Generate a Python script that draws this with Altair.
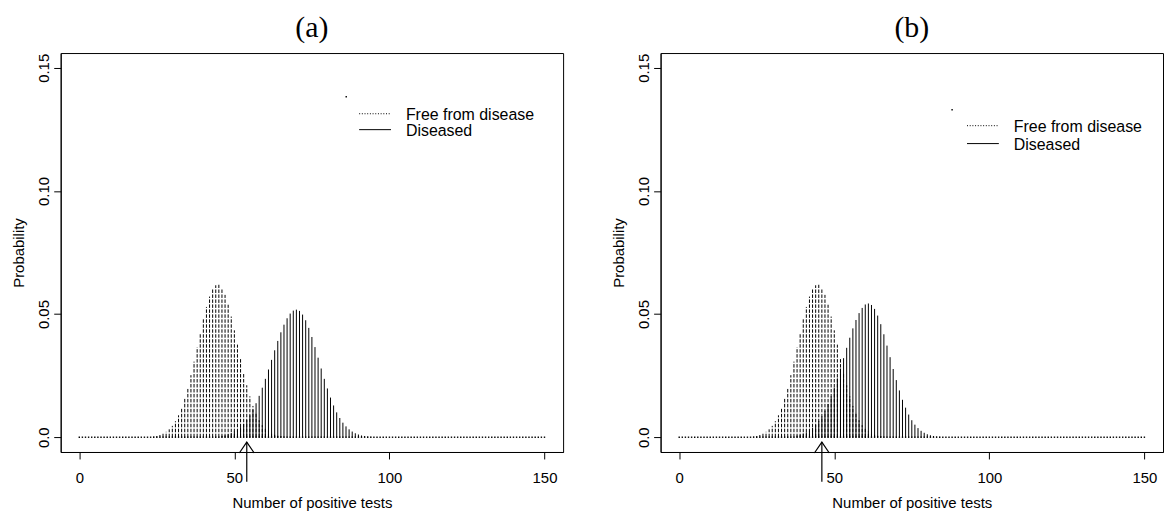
import altair as alt
import pandas as pd

# ---------------- data ----------------
support = list(range(0, 151))            # possible counts 0..150
x_ticks = [0, 50, 100, 150]
y_ticks = [0, 0.05, 0.10, 0.15]
panel_titles = ["(a)", "(b)"]
legend_labels = ["Free from disease", "Diseased"]

# Free from disease (same in both panels), counts 24..66
free_start = 24
free_probs = [0.0003, 0.0005, 0.0009, 0.0014, 0.0022, 0.0032, 0.0046, 0.0065, 0.0089,
              0.0120, 0.0158, 0.0202, 0.0252, 0.0307, 0.0365, 0.0423, 0.0479, 0.0529,
              0.0571, 0.0601, 0.0617, 0.0619, 0.0605, 0.0578, 0.0538, 0.0490, 0.0434,
              0.0376, 0.0318, 0.0262, 0.0211, 0.0166, 0.0127, 0.0095, 0.0069, 0.0049,
              0.0034, 0.0023, 0.0015, 0.0010, 0.0006, 0.0004, 0.0002]

# Diseased, panel (a), counts 46..94
dis_a_start = 46
dis_a_probs = [0.0006, 0.0008, 0.0012, 0.0017, 0.0023, 0.0031, 0.0041, 0.0054, 0.0070,
               0.0089, 0.0112, 0.0138, 0.0168, 0.0201, 0.0237, 0.0275, 0.0314, 0.0353,
               0.0391, 0.0426, 0.0457, 0.0483, 0.0502, 0.0514, 0.0518, 0.0513, 0.0498,
               0.0475, 0.0444, 0.0407, 0.0366, 0.0323, 0.0279, 0.0237, 0.0198, 0.0161,
               0.0129, 0.0101, 0.0078, 0.0059, 0.0044, 0.0032, 0.0023, 0.0016, 0.0011,
               0.0007, 0.0005, 0.0003, 0.0002]

# Diseased, panel (b), counts 38..84
dis_b_start = 38
dis_b_probs = [0.0007, 0.0010, 0.0015, 0.0020, 0.0028, 0.0038, 0.0050, 0.0066, 0.0085,
               0.0108, 0.0135, 0.0166, 0.0201, 0.0239, 0.0279, 0.0321, 0.0363, 0.0404,
               0.0442, 0.0476, 0.0504, 0.0525, 0.0539, 0.0543, 0.0537, 0.0521, 0.0494,
               0.0459, 0.0418, 0.0372, 0.0325, 0.0277, 0.0232, 0.0190, 0.0152, 0.0120,
               0.0092, 0.0069, 0.0051, 0.0037, 0.0026, 0.0018, 0.0012, 0.0008, 0.0005,
               0.0003, 0.0002]

cutoff_a = 54
cutoff_b = 46

# ---------------- layout ----------------
W, H = 505, 401
SANS = "Liberation Sans"
SERIF = "Liberation Serif"

xscale = alt.Scale(domain=[-6, 156], nice=False, zero=False)
yscale = alt.Scale(domain=[-0.006, 0.156], nice=False, zero=False)

xaxis = alt.Axis(values=x_ticks, format="d", title="Number of positive tests",
                 titleX=W / 2, titleY=51, titleAlign="center", titleBaseline="middle",
                 labelPadding=12, labelFlush=False, grid=False)
yaxis = alt.Axis(values=y_ticks, title="Probability", grid=False,
                 labelExpr="datum.value == 0 ? '0.0' : format(datum.value, '.2f')",
                 labelAngle=270, labelAlign="center", labelBaseline="alphabetic",
                 labelPadding=5, titleAngle=270, titleX=-42, titleY=H / 2,
                 titleAlign="center", titleBaseline="middle")


def X(field="x"):
    return alt.X(field, type="quantitative", scale=xscale, axis=xaxis)


def Y(field):
    return alt.Y(field, type="quantitative", scale=yscale, axis=yaxis)


def panel(title, dis_start, dis_probs, cutoff, leg):
    free_df = pd.DataFrame({"x": [free_start + i for i in range(len(free_probs))],
                            "p": free_probs})
    free_df["zero"] = 0.0
    dis_df = pd.DataFrame({"x": [dis_start + i for i in range(len(dis_probs))],
                           "p": dis_probs})
    dis_df["zero"] = 0.0
    base_df = pd.DataFrame({"x": support})
    base_df["zero"] = 0.0
    cut_df = pd.DataFrame({"x": [cutoff]})
    one = pd.DataFrame({"label": [title]})

    free = alt.Chart(free_df).mark_rule(color="black", strokeWidth=1,
                                        strokeDash=[3.5, 1.5]).encode(
        x=X(), y=Y("zero"), y2="p")
    dis = alt.Chart(dis_df).mark_rule(color="black", strokeWidth=1).encode(
        x=X(), y=Y("zero"), y2="p")
    dots = alt.Chart(base_df).mark_square(color="black", size=2, opacity=1).encode(
        x=X(), y=Y("zero"))

    arrow = alt.Chart(cut_df).mark_rule(color="black", strokeWidth=1.2).encode(
        x=X(), y=alt.value(391), y2=alt.value(431))
    head = alt.Chart(cut_df).mark_point(shape="M-0.68,1L0,0L0.68,1", filled=False,
                                        color="black", strokeWidth=1.2, size=484,
                                        opacity=1).encode(
        x=X(), y=alt.value(391))

    ttl = alt.Chart(one).mark_text(font=SERIF, fontSize=30, color="black",
                                   align="center", baseline="middle").encode(
        x=alt.value(W / 2), y=alt.value(-25), text="label:N")

    lx0, lx1, ltx, ly1, ly2, dotx, doty = leg
    ldf1 = pd.DataFrame({"label": [legend_labels[0]]})
    ldf2 = pd.DataFrame({"label": [legend_labels[1]]})
    ldot = alt.Chart(one).mark_square(color="black", size=2, opacity=1).encode(
        x=alt.value(dotx), y=alt.value(doty))
    lline1 = alt.Chart(ldf1).mark_rule(color="black", strokeWidth=1,
                                       strokeDash=[1, 1.7]).encode(
        x=alt.value(lx0), x2=alt.value(lx1), y=alt.value(ly1))
    lline2 = alt.Chart(ldf2).mark_rule(color="black", strokeWidth=1).encode(
        x=alt.value(lx0), x2=alt.value(lx1), y=alt.value(ly2))
    ltext1 = alt.Chart(ldf1).mark_text(font=SANS, fontSize=16, color="black",
                                       align="left", baseline="middle").encode(
        x=alt.value(ltx), y=alt.value(ly1 + 1), text="label:N")
    ltext2 = alt.Chart(ldf2).mark_text(font=SANS, fontSize=16, color="black",
                                       align="left", baseline="middle").encode(
        x=alt.value(ltx), y=alt.value(ly2 + 1), text="label:N")

    return alt.layer(free, dis, dots, arrow, head, ttl, ldot, lline1, lline2,
                     ltext1, ltext2).properties(width=W, height=H)


pa = panel(panel_titles[0], dis_a_start, dis_a_probs, cutoff_a,
           (300, 332, 347, 61, 77, 287, 44))
pb = panel(panel_titles[1], dis_b_start, dis_b_probs, cutoff_b,
           (308, 340, 355, 73, 91, 293, 57))

chart = alt.hconcat(pa, pb, spacing=47).properties(
    padding={"left": 11, "top": 11, "right": 0, "bottom": 0},
    background="white"
).configure_view(
    stroke="black", strokeWidth=1
).configure_axis(
    grid=False, domainColor="black", domainWidth=1, tickColor="black", tickSize=7,
    tickWidth=1, labelFont=SANS, labelFontSize=15, labelColor="black",
    titleFont=SANS, titleFontSize=15, titleFontWeight="normal", titleColor="black"
)

chart.save("out.html", embed_options={"renderer": "svg", "actions": False})
